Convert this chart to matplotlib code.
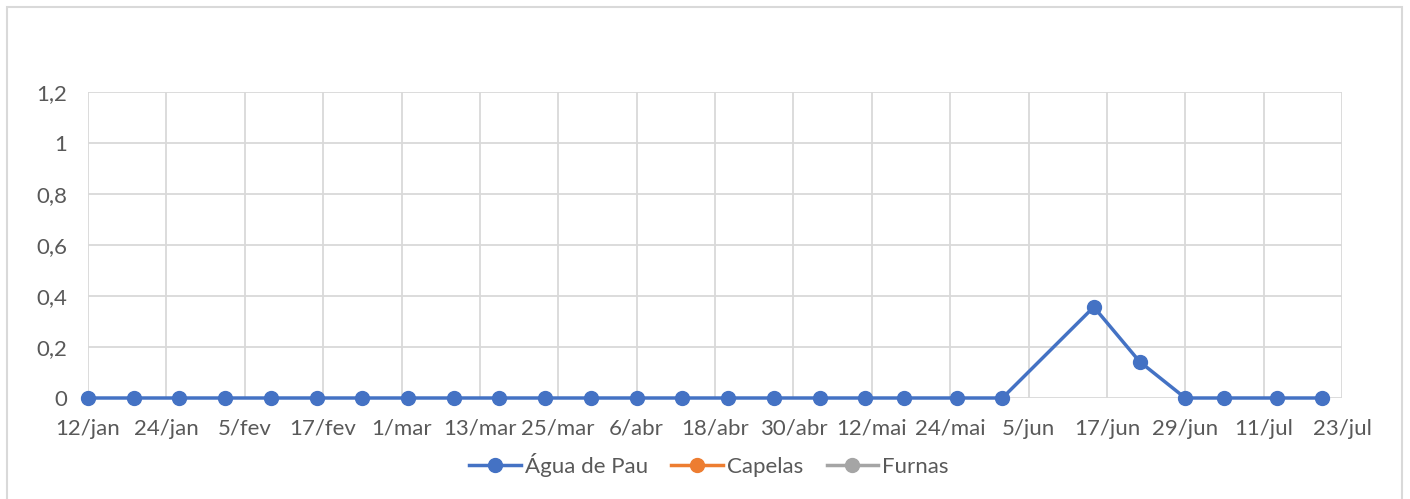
import matplotlib
matplotlib.use("Agg")
import matplotlib.pyplot as plt
from matplotlib.patches import Rectangle
from matplotlib.lines import Line2D
import datetime as dt

plt.rcParams['font.family'] = ['Lato', 'DejaVu Sans']

# Data
dates_str = ["2021-01-12", "2021-01-19", "2021-01-26", "2021-02-02", "2021-02-09",
             "2021-02-16", "2021-02-23", "2021-03-02", "2021-03-09", "2021-03-16",
             "2021-03-23", "2021-03-30", "2021-04-06", "2021-04-13", "2021-04-20",
             "2021-04-27", "2021-05-04", "2021-05-11", "2021-05-17", "2021-05-25",
             "2021-06-01", "2021-06-15", "2021-06-22", "2021-06-29", "2021-07-05",
             "2021-07-13", "2021-07-20"]
agua_de_pau = [0, 0, 0, 0, 0, 0, 0, 0, 0, 0, 0, 0, 0, 0, 0, 0, 0, 0, 0, 0,
               0, 0.357, 0.143, 0, 0, 0, 0]
capelas = []
furnas = []
series_names = ["Água de Pau", "Capelas", "Furnas"]
colors = ["#4472C4", "#ED7D31", "#A5A5A5"]
y_ticks = [0, 0.2, 0.4, 0.6, 0.8, 1.0, 1.2]
y_labels = ["0", "0,2", "0,4", "0,6", "0,8", "1", "1,2"]
months_pt = ["jan", "fev", "mar", "abr", "mai", "jun", "jul", "ago", "set", "out", "nov", "dez"]

dates = [dt.datetime.strptime(d, "%Y-%m-%d") for d in dates_str]

W, H = 1410, 499
fig = plt.figure(figsize=(W / 100, H / 100), dpi=100)
ax = fig.add_axes([88 / W, 1 - 398 / H, (1342 - 88) / W, (398 - 92) / H])

text_color = "#595959"
grid_color = "#D9D9D9"
fs = 16

start = dt.datetime(2021, 1, 12)
end = dt.datetime(2021, 7, 23)
x_ticks = []
d = start
while d <= end:
    x_ticks.append(d)
    d += dt.timedelta(days=12)

ax.set_xlim(start, end)
ax.set_ylim(0, 1.2)
ax.set_xticks(x_ticks)
ax.set_xticklabels([f"{t.day}/{months_pt[t.month - 1]}" for t in x_ticks])
ax.set_yticks(y_ticks)
ax.set_yticklabels(y_labels)
ax.grid(True, color=grid_color, linewidth=1.3)
ax.set_axisbelow(True)
for s in ax.spines.values():
    s.set_visible(False)
ax.tick_params(length=0, labelsize=fs, colors=text_color)
ax.tick_params(axis='x', pad=15)
ax.tick_params(axis='y', pad=15)

ax.plot(dates[:0], capelas, color=colors[1], lw=2.5, marker='o', ms=10, label=series_names[1])
ax.plot(dates[:0], furnas, color=colors[2], lw=2.5, marker='o', ms=10, label=series_names[2])
ax.plot(dates, agua_de_pau, color=colors[0], lw=2.5, marker='o', ms=10,
        label=series_names[0], clip_on=False, zorder=5)

handles = [Line2D([], [], color=c, lw=2.5, marker='o', ms=10) for c in colors]
fig.legend(handles, series_names, loc='center', bbox_to_anchor=(709 / W, 1 - 465 / H),
           ncol=3, frameon=False, fontsize=fs, labelcolor=text_color,
           handlelength=2.3, handletextpad=0.2, columnspacing=1.05)

fig.patches.append(Rectangle((7 / W, -0.1), (1402 - 7) / W, 1 - 7 / H + 0.1,
                             transform=fig.transFigure, fill=False,
                             edgecolor=grid_color, lw=1.5))

fig.savefig("out.png", dpi=100, facecolor="white")
